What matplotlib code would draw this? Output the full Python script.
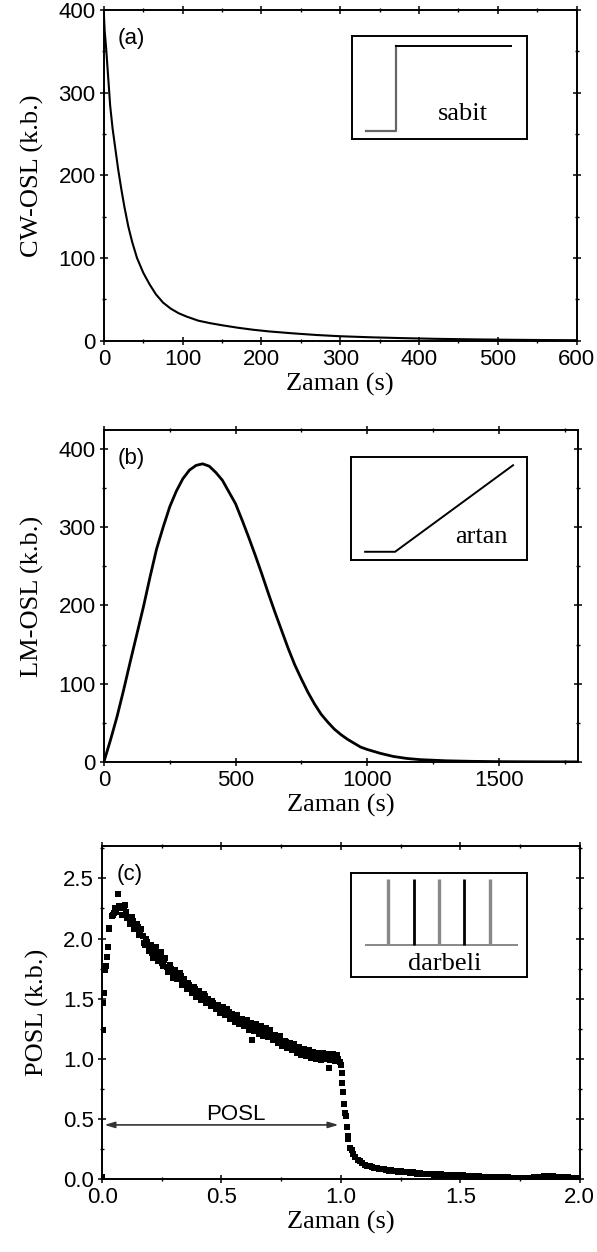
import matplotlib.pyplot as plt
import matplotlib.ticker as mtick
import numpy as np

# ---- data ----
# (a) CW-OSL decay
cw_t = [0, 1, 3, 5, 8, 11, 14, 18, 22, 26, 31, 36, 42, 50, 58, 66, 75, 85, 95, 105,
        120, 135, 150, 170, 190, 210, 240, 270, 300, 340, 380, 420, 470, 520, 560, 600]
cw_osl = [395, 375, 352, 325, 284, 257, 236, 208, 184, 162, 138, 119, 100, 82, 68, 56, 46, 38.5, 33, 29,
          24, 21, 18.5, 15.5, 13, 11, 8.7, 6.7, 5.2, 3.9, 2.9, 2.1, 1.4, 0.9, 0.6, 0.4]

# (b) LM-OSL peak
lm_t = [0, 25, 50, 75, 100, 125, 150, 175, 200, 225, 250, 275, 300, 325, 350, 375, 400,
        425, 450, 475, 500, 525, 550, 575, 600, 625, 650, 675, 700, 725, 750, 775, 800,
        825, 850, 875, 900, 925, 950, 975, 1000, 1050, 1100, 1150, 1200, 1300, 1400,
        1500, 1650, 1800]
lm_osl = [0, 28, 58, 92, 128, 163, 198, 236, 272, 300, 326, 346, 362, 373, 379, 381, 378,
          370, 360, 345, 330, 309, 287, 264, 240, 215, 191, 168, 145, 124, 106, 89, 74,
          61, 51, 42, 35, 29, 24, 19, 16, 11, 7, 4.5, 3, 1.5, 0.8,
          0.4, 0.2, 0.1]

# (c) POSL, one sample every 10 ms from 0 to 2 s
posl_t = np.linspace(0, 2, 201)
posl = [0.02, 1.55, 1.85, 2.08, 2.19, 2.21, 2.22, 2.27, 2.25, 2.26,
        2.22, 2.18, 2.13, 2.15, 2.09, 2.10, 2.06, 2.02, 1.95, 1.97,
        1.91, 1.88, 1.90, 1.85, 1.86, 1.80, 1.82, 1.76, 1.73, 1.75,
        1.70, 1.71, 1.67, 1.69, 1.64, 1.62, 1.63, 1.59, 1.57, 1.58,
        1.54, 1.53, 1.51, 1.52, 1.48, 1.47, 1.48, 1.44, 1.43, 1.41,
        1.42, 1.39, 1.38, 1.39, 1.36, 1.34, 1.35, 1.32, 1.31, 1.29,
        1.30, 1.27, 1.28, 1.25, 1.27, 1.24, 1.25, 1.22, 1.24, 1.21,
        1.22, 1.19, 1.18, 1.16, 1.17, 1.14, 1.13, 1.14, 1.11, 1.10,
        1.11, 1.08, 1.07, 1.08, 1.06, 1.05, 1.06, 1.04, 1.05, 1.03,
        1.04, 1.02, 1.04, 1.02, 1.03, 1.01, 1.03, 1.02, 1.01, 1.00,
        0.95, 0.72, 0.52, 0.33, 0.26, 0.21, 0.18, 0.16, 0.15, 0.13,
        0.12, 0.11, 0.11, 0.10, 0.09, 0.09, 0.085, 0.08, 0.085, 0.075,
        0.07, 0.075, 0.065, 0.07, 0.06, 0.065, 0.06, 0.055, 0.06, 0.05,
        0.055, 0.05, 0.045, 0.05, 0.045, 0.04, 0.045, 0.04, 0.045, 0.035,
        0.04, 0.035, 0.04, 0.03, 0.035, 0.03, 0.035, 0.03, 0.025, 0.03,
        0.025, 0.03, 0.025, 0.02, 0.025, 0.02, 0.025, 0.02, 0.025, 0.015,
        0.02, 0.015, 0.02, 0.015, 0.02, 0.01, 0.015, 0.01, 0.015, 0.01,
        0.015, 0.01, 0.005, 0.01, 0.005, 0.01, 0.005, 0.01, 0.005, 0.01,
        0.01, 0.015, 0.02, 0.015, 0.02, 0.025, 0.02, 0.025, 0.02, 0.025,
        0.02, 0.015, 0.02, 0.015, 0.01, 0.015, 0.01, 0.005, 0.01, 0.005,
        0.01]
# second row of samples in the noisy band, 85 ms .. 995 ms
band_t = np.linspace(0.085, 0.995, 92)
band_v = [2.20, 2.28, 2.17, 2.12, 2.18, 2.08, 2.12, 2.03, 2.08, 1.96,
          2.00, 1.90, 1.95, 1.84, 1.93, 1.81, 1.89, 1.77, 1.84, 1.72,
          1.78, 1.67, 1.74, 1.66, 1.71, 1.61, 1.66, 1.58, 1.61, 1.55,
          1.60, 1.51, 1.56, 1.49, 1.54, 1.46, 1.50, 1.44, 1.46, 1.41,
          1.45, 1.38, 1.43, 1.36, 1.41, 1.33, 1.37, 1.31, 1.36, 1.29,
          1.33, 1.27, 1.32, 1.24, 1.30, 1.23, 1.29, 1.21, 1.27, 1.19,
          1.26, 1.18, 1.24, 1.16, 1.20, 1.13, 1.19, 1.11, 1.15, 1.09,
          1.13, 1.07, 1.12, 1.05, 1.10, 1.03, 1.08, 1.02, 1.07, 1.01,
          1.06, 1.00, 1.05, 0.99, 1.05, 1.00, 1.04, 0.99, 1.04, 0.98,
          1.03, 0.97]
# stray points off the grid (rise, outliers, fast drop)
extra_t = [0.002, 0.004, 0.006, 0.012, 0.016, 0.024, 0.031, 0.045, 0.055, 0.068,
           0.626, 0.95, 1.003, 1.006, 1.012, 1.017, 1.024, 1.03, 1.045]
extra_v = [1.24, 1.46, 1.55, 1.74, 1.77, 1.93, 2.09, 2.20, 2.25, 2.37,
           1.16, 0.92, 0.88, 0.80, 0.62, 0.55, 0.43, 0.36, 0.24]
posl_arrow = (0.01, 0.99, 0.45)  # start, end, level

# inset schematics (inset units 0..1)
step_x, step_y = [0.08, 0.25, 0.25, 0.91], [0.08, 0.08, 0.91, 0.91]
ramp_x, ramp_y = [0.08, 0.25, 0.92], [0.08, 0.08, 0.92]
pulse_x = [0.21, 0.36, 0.50, 0.64, 0.79]
pulse_top, pulse_base = 0.94, 0.31

serif = 'Liberation Serif'
plt.rcParams['font.family'] = 'Liberation Sans'
plt.rcParams['axes.linewidth'] = 1.4

fig = plt.figure(figsize=(5.97, 12.52), dpi=100)
ax_a = fig.add_axes([0.174, 0.728, 0.792, 0.264])
ax_b = fig.add_axes([0.174, 0.3914, 0.794, 0.265])
ax_c = fig.add_axes([0.171, 0.0583, 0.80, 0.266])

ax_a.plot(cw_t, cw_osl, color='k', lw=1.5)
ax_b.plot(lm_t, lm_osl, color='k', lw=2.0)
for tt, vv in [(posl_t, posl), (band_t, band_v), (extra_t, extra_v)]:
    ax_c.plot(tt, vv, 's', color='k', ms=4.2, mew=0)

ax_a.set(xlim=(0, 600), ylim=(0, 400))
ax_a.xaxis.set_major_locator(mtick.MultipleLocator(100))
ax_a.xaxis.set_minor_locator(mtick.MultipleLocator(50))
ax_a.yaxis.set_major_locator(mtick.MultipleLocator(100))
ax_a.yaxis.set_minor_locator(mtick.MultipleLocator(50))
ax_a.set_ylabel('CW-OSL (k.b.)')

ax_b.set(xlim=(0, 1800), ylim=(0, 424))
ax_b.xaxis.set_major_locator(mtick.MultipleLocator(500))
ax_b.xaxis.set_minor_locator(mtick.MultipleLocator(250))
ax_b.yaxis.set_major_locator(mtick.MultipleLocator(100))
ax_b.yaxis.set_minor_locator(mtick.MultipleLocator(50))
ax_b.set_ylabel('LM-OSL (k.b.)')

ax_c.set(xlim=(0, 2.0), ylim=(0, 2.77))
ax_c.xaxis.set_major_locator(mtick.MultipleLocator(0.5))
ax_c.xaxis.set_minor_locator(mtick.MultipleLocator(0.25))
ax_c.yaxis.set_major_locator(mtick.MultipleLocator(0.5))
ax_c.yaxis.set_minor_locator(mtick.MultipleLocator(0.25))
ax_c.xaxis.set_major_formatter(mtick.FormatStrFormatter('%.1f'))
ax_c.yaxis.set_major_formatter(mtick.FormatStrFormatter('%.1f'))
ax_c.set_ylabel('POSL (k.b.)')
ax_c.annotate('', xy=(posl_arrow[0], posl_arrow[2]), xytext=(posl_arrow[1], posl_arrow[2]),
              arrowprops=dict(arrowstyle='<|-|>,head_length=0.6,head_width=0.18',
                              color='#333333', lw=1.2, shrinkA=0, shrinkB=0))
ax_c.text(0.56, 0.535, 'POSL', ha='center', va='center', fontsize=16)

for ax, lab in zip([ax_a, ax_b, ax_c], ['(a)', '(b)', '(c)']):
    ax.tick_params(which='both', direction='inout', top=True, right=True,
                   labelsize=16, pad=3)
    ax.tick_params(which='major', length=6, width=1.1)
    ax.tick_params(which='minor', length=3, width=1.0)
    ax.set_xlabel('Zaman (s)', fontfamily=serif, fontsize=19, labelpad=2)
    ax.yaxis.label.set_fontfamily(serif)
    ax.yaxis.label.set_fontsize(19)
    ax.yaxis.labelpad = 10
    ax.text(0.03, 0.915, lab, transform=ax.transAxes, va='center', fontsize=16)

# insets
in_a = fig.add_axes([0.590, 0.889, 0.293, 0.082])
in_b = fig.add_axes([0.588, 0.5527, 0.295, 0.0823])
in_c = fig.add_axes([0.588, 0.2196, 0.295, 0.083])
in_a.plot(step_x[:3], step_y[:3], color='#666666', lw=1.6)
in_a.plot(step_x[2:], step_y[2:], color='k', lw=1.4)
in_a.text(0.63, 0.24, 'sabit', ha='center', va='center', fontfamily=serif, fontsize=19)
in_b.plot(ramp_x, ramp_y, color='k', lw=1.4)
in_b.text(0.74, 0.22, 'artan', ha='center', va='center', fontfamily=serif, fontsize=19)
in_c.hlines(pulse_base, 0.08, 0.95, color='#888888', lw=1.4)
for i, px in enumerate(pulse_x):
    in_c.vlines(px, pulse_base, pulse_top, color='#888888' if i % 2 == 0 else 'k',
                lw=2.4 if i % 2 == 0 else 2.0)
in_c.text(0.53, 0.13, 'darbeli', ha='center', va='center', fontfamily=serif, fontsize=19)
for ax in [in_a, in_b, in_c]:
    ax.set(xlim=(0, 1), ylim=(0, 1), xticks=[], yticks=[])

fig.savefig('out.png', dpi=100)
